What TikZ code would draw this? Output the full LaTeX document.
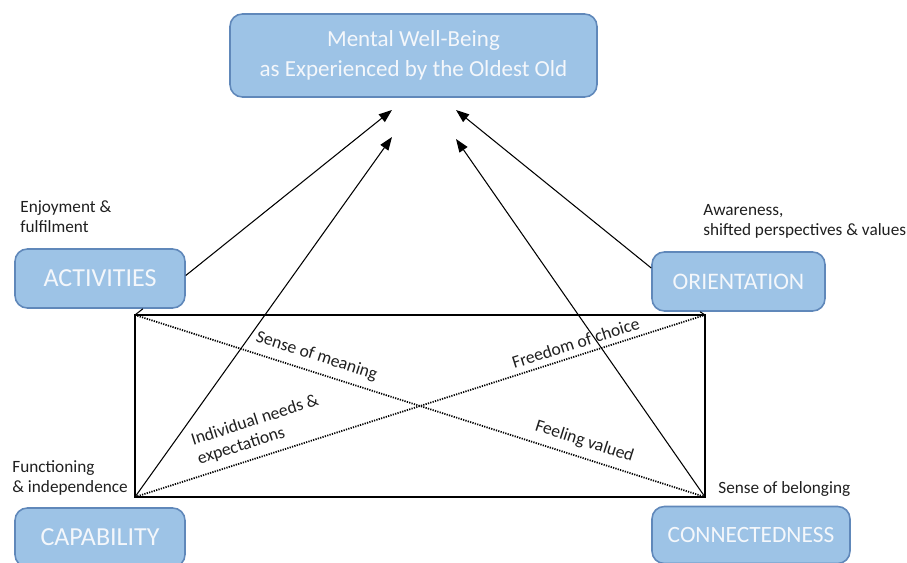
\documentclass[tikz,border=0pt]{standalone}
\usepackage{fontspec}
\setmainfont{Carlito}
\usepackage{tikz}
\usetikzlibrary{arrows.meta, positioning, calc}
\definecolor{boxfill}{HTML}{9DC3E6}
\definecolor{boxline}{HTML}{6088BA}
\definecolor{boxtext}{HTML}{F4F7FB}
\definecolor{labeltext}{HTML}{1F1F1F}

\tikzset{
    themebox/.style={draw=boxline, fill=boxfill, line width=0.9pt, rounded corners=7pt,
        text=boxtext, font=\fontsize{14.8}{17}\selectfont, inner sep=0pt},
    sidelabel/.style={text=labeltext, font=\fontsize{9.8}{11.6}\selectfont, align=left, inner sep=0pt},
    linklabel/.style={text=labeltext, font=\fontsize{10}{11.5}\selectfont, sloped, align=left},
    pointer/.style={line width=0.6pt, -{Triangle[length=7.5pt,width=5.5pt]}},
    crossline/.style={line width=1pt, dash pattern=on 0.7pt off 0.7pt}
}

\begin{document}
\begin{tikzpicture}[x=0.02cm, y=-0.02cm]
    \useasboundingbox (0,0) rectangle (907,563);
    % Main outcome box
    \node[themebox, minimum width=7.34cm, minimum height=1.66cm, align=center,
        font=\fontsize{13.1}{17}\selectfont] (wellbeing) at (413.5,55.5)
        {Mental Well-Being\\as Experienced by the Oldest Old};
    % Four theme boxes
    \node[themebox, minimum width=3.4cm, minimum height=1.18cm] (activities) at (100,278.5) {ACTIVITIES};
    \node[themebox, minimum width=3.46cm, minimum height=1.18cm,
        font=\fontsize{13.5}{16}\selectfont] (orientation) at (738.5,281.5) {ORIENTATION};
    \node[themebox, minimum width=3.4cm, minimum height=1.18cm] (capability) at (100,537.5) {CAPABILITY};
    \node[themebox, minimum width=3.96cm, minimum height=1.14cm,
        font=\fontsize{13.3}{16}\selectfont] (connectedness) at (751,535) {CONNECTEDNESS};
    % Labels next to the boxes
    \node[sidelabel, anchor=north west] (enjoyment) at (20,200) {Enjoyment \&\\fulfilment};
    \node[sidelabel, anchor=north west] (awareness) at (703,204) {Awareness,\\shifted perspectives \& values};
    \node[sidelabel, anchor=north west] (functioning) at (12,460) {Functioning\\\& independence};
    \node[sidelabel, anchor=west] (belonging) at (718,489) {Sense of belonging};
    % Corners of the frame and arrow ends
    \coordinate (tl) at (135,315);
    \coordinate (tr) at (705,315);
    \coordinate (bl) at (135,497);
    \coordinate (br) at (705,497);
    \coordinate (tipA) at (392,110);
    \coordinate (tipB) at (392,137);
    \coordinate (tipC) at (456,110);
    \coordinate (tipD) at (456,139);
    % Frame
    \draw[line width=1.2pt] (tl) rectangle (br);
    % Short links from boxes to frame
    \draw[line width=0.6pt] ($(activities.south west)!0.75!(activities.south east)$) -- (tl);
    \draw[line width=0.6pt] ($(orientation.south west)!0.28!(orientation.south east)$) -- (tr);
    % Dotted diagonals with their labels
    \draw[crossline] (tl) -- (br)
        node[linklabel, pos=0.31, above=1pt] (meaning) {Sense of meaning}
        node[linklabel, pos=0.78, above=1pt] (valued) {Feeling valued};
    \draw[crossline] (bl) -- (tr)
        node[linklabel, pos=0.78, above=0pt] (freedom) {Freedom of choice}
        node[linklabel, pos=0.23, above=1pt] (needs) {Individual needs \&\\expectations};
    % Arrows to mental well-being
    \draw[pointer] ([yshift=0.06cm]activities.east) -- (tipA);
    \draw[pointer] (bl) -- (tipB);
    \draw[pointer] ([yshift=0.27cm]orientation.west) -- (tipC);
    \draw[pointer] (br) -- (tipD);
\end{tikzpicture}
\end{document}
